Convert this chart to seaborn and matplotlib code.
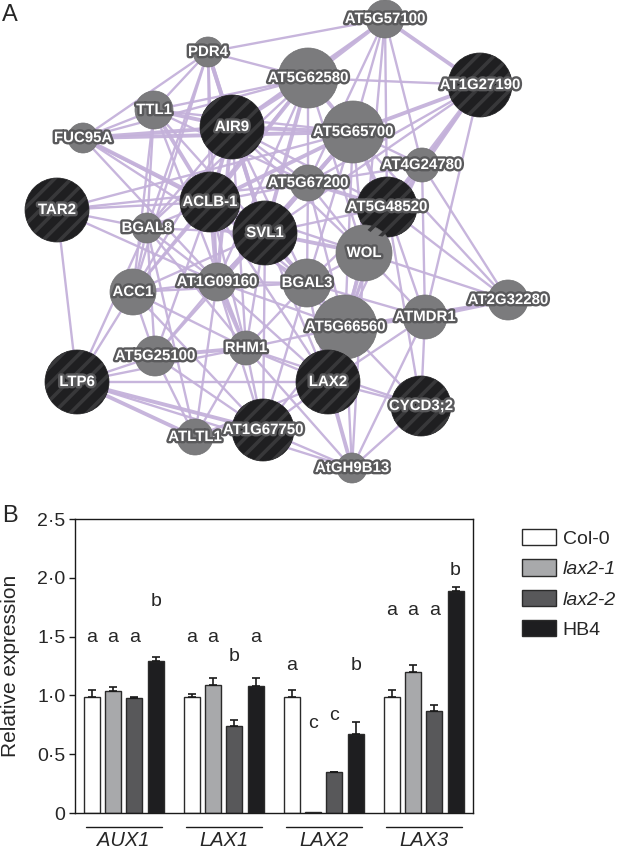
import numpy as np
import pandas as pd
import matplotlib
matplotlib.use("Agg")
import matplotlib.pyplot as plt
import matplotlib.patheffects as pe
from matplotlib.patches import Circle, Patch
from matplotlib.transforms import blended_transform_factory
import seaborn as sns

sns.set_theme(style="white")
plt.rcParams["font.family"] = ["Liberation Sans", "DejaVu Sans"]
plt.rcParams["hatch.linewidth"] = 2.6

# ── Panel A data: gene network ───────────────────────────────────────
nodes = ["AT5G57100", "PDR4", "AT5G62580", "AT1G27190", "TTL1", "AIR9",
         "AT5G65700", "FUC95A", "AT4G24780", "AT5G67200", "TAR2", "ACLB-1",
         "AT5G48520", "BGAL8", "SVL1", "WOL", "ACC1", "AT1G09160", "BGAL3",
         "AT2G32280", "AT5G66560", "ATMDR1", "AT5G25100", "RHM1", "LTP6",
         "LAX2", "CYCD3;2", "ATLTL1", "AT1G67750", "AtGH9B13"]
node_x = [385, 208, 308, 480, 154, 232, 353, 83, 422, 308, 57, 210, 387, 147,
          265, 364, 133, 217, 307, 508, 345, 425, 155, 246, 77, 328, 421, 195,
          263, 352]
node_y = [19, 52, 78, 85, 110, 127, 132, 138, 165, 183, 210, 202, 207, 228,
          233, 253, 292, 282, 283, 300, 327, 317, 356, 348, 382, 382, 406, 437,
          430, 468]
node_r = [19, 15, 30, 32, 19, 32, 31, 15, 17, 18, 32, 30, 30, 15, 32, 28, 23,
          19, 24, 20, 32, 22, 20, 17, 32, 32, 30, 18, 31, 15]
query_genes = ["AT1G27190", "AIR9", "TAR2", "ACLB-1", "AT5G48520", "SVL1",
               "LTP6", "LAX2", "CYCD3;2", "AT1G67750"]

edges = [
    ("TAR2", "LTP6", 1), ("TAR2", "AT5G67200", 1), ("TAR2", "ACLB-1", 1),
    ("TAR2", "AT1G09160", 1), ("TAR2", "BGAL8", 1), ("TAR2", "AT5G65700", 1),
    ("FUC95A", "AIR9", 2), ("FUC95A", "AT5G62580", 1), ("FUC95A", "AT5G65700", 2),
    ("FUC95A", "ACLB-1", 2), ("FUC95A", "TTL1", 1), ("FUC95A", "PDR4", 1),
    ("FUC95A", "SVL1", 1), ("FUC95A", "BGAL3", 1), ("FUC95A", "AT1G09160", 1),
    ("PDR4", "AT5G57100", 1), ("PDR4", "AT5G62580", 1), ("PDR4", "AIR9", 2),
    ("PDR4", "TTL1", 1), ("PDR4", "ACLB-1", 1), ("PDR4", "SVL1", 2),
    ("PDR4", "AT1G09160", 1), ("PDR4", "BGAL8", 1), ("PDR4", "ACC1", 1),
    ("TTL1", "AIR9", 2), ("TTL1", "AT5G62580", 1), ("TTL1", "AT5G65700", 1),
    ("TTL1", "ACLB-1", 2), ("TTL1", "SVL1", 1), ("TTL1", "AT5G67200", 1),
    ("TTL1", "BGAL8", 1), ("TTL1", "ACC1", 1), ("TTL1", "RHM1", 1),
    ("AT5G57100", "AT5G62580", 2), ("AT5G57100", "AT1G27190", 2),
    ("AT5G57100", "AT5G65700", 1), ("AT5G57100", "AIR9", 1),
    ("AT5G57100", "AT5G67200", 1), ("AT5G57100", "WOL", 1),
    ("AT5G57100", "AT4G24780", 1), ("AT5G57100", "AT5G48520", 1),
    ("AT5G62580", "AIR9", 2), ("AT5G62580", "AT5G65700", 2),
    ("AT5G62580", "AT1G27190", 1), ("AT5G62580", "ACLB-1", 2),
    ("AT5G62580", "SVL1", 2), ("AT5G62580", "AT5G67200", 1),
    ("AT5G62580", "BGAL8", 1), ("AT5G62580", "AT1G09160", 1),
    ("AT5G62580", "WOL", 1), ("AT5G62580", "ACC1", 1),
    ("AT1G27190", "AT5G65700", 2), ("AT1G27190", "AT4G24780", 1),
    ("AT1G27190", "AT5G48520", 2), ("AT1G27190", "SVL1", 1),
    ("AT1G27190", "AT5G67200", 1), ("AT1G27190", "ATMDR1", 1),
    ("AT1G27190", "WOL", 1),
    ("AIR9", "AT5G65700", 2), ("AIR9", "ACLB-1", 2), ("AIR9", "SVL1", 2),
    ("AIR9", "AT5G67200", 1), ("AIR9", "BGAL8", 1), ("AIR9", "AT1G09160", 2),
    ("AIR9", "ACC1", 1), ("AIR9", "WOL", 1), ("AIR9", "AT5G48520", 1),
    ("AIR9", "BGAL3", 1), ("AIR9", "RHM1", 1),
    ("AT5G65700", "AT5G67200", 2), ("AT5G65700", "SVL1", 2),
    ("AT5G65700", "ACLB-1", 2), ("AT5G65700", "AT5G48520", 2),
    ("AT5G65700", "WOL", 1), ("AT5G65700", "AT4G24780", 1),
    ("AT5G65700", "BGAL3", 1), ("AT5G65700", "AT5G66560", 1),
    ("AT5G65700", "AT2G32280", 1), ("AT5G65700", "AT1G09160", 1),
    ("AT4G24780", "AT5G48520", 1), ("AT4G24780", "WOL", 1),
    ("AT4G24780", "AT5G67200", 1), ("AT4G24780", "ATMDR1", 1),
    ("AT4G24780", "AT2G32280", 1), ("AT4G24780", "AT5G66560", 1),
    ("AT5G67200", "SVL1", 2), ("AT5G67200", "ACLB-1", 1),
    ("AT5G67200", "AT5G48520", 2), ("AT5G67200", "WOL", 1),
    ("AT5G67200", "BGAL3", 1), ("AT5G67200", "AT1G09160", 1),
    ("AT5G67200", "AT5G66560", 1),
    ("AT5G48520", "WOL", 2), ("AT5G48520", "SVL1", 1), ("AT5G48520", "BGAL3", 1),
    ("AT5G48520", "AT5G66560", 1), ("AT5G48520", "ATMDR1", 1),
    ("AT5G48520", "AT2G32280", 1), ("AT5G48520", "LAX2", 1),
    ("AT5G48520", "CYCD3;2", 1),
    ("ACLB-1", "SVL1", 2), ("ACLB-1", "BGAL8", 1), ("ACLB-1", "AT1G09160", 2),
    ("ACLB-1", "ACC1", 1), ("ACLB-1", "BGAL3", 1), ("ACLB-1", "RHM1", 1),
    ("ACLB-1", "AT5G25100", 1), ("ACLB-1", "LAX2", 1),
    ("ACLB-1", "AT5G66560", 1), ("ACLB-1", "WOL", 1),
    ("SVL1", "BGAL8", 1), ("SVL1", "AT1G09160", 2), ("SVL1", "BGAL3", 2),
    ("SVL1", "WOL", 2), ("SVL1", "AT5G66560", 2), ("SVL1", "RHM1", 1),
    ("SVL1", "ACC1", 1), ("SVL1", "LAX2", 1), ("SVL1", "AT1G67750", 1),
    ("SVL1", "AT5G25100", 1),
    ("BGAL8", "ACC1", 1), ("BGAL8", "AT1G09160", 1), ("BGAL8", "RHM1", 1),
    ("BGAL8", "AT5G25100", 1), ("BGAL8", "LTP6", 1), ("BGAL8", "ATLTL1", 1),
    ("ACC1", "AT1G09160", 1), ("ACC1", "LTP6", 1), ("ACC1", "RHM1", 1),
    ("ACC1", "AT5G25100", 1), ("ACC1", "AT1G67750", 1), ("ACC1", "BGAL3", 1),
    ("AT1G09160", "RHM1", 2), ("AT1G09160", "BGAL3", 1),
    ("AT1G09160", "AT5G25100", 1), ("AT1G09160", "AT5G66560", 1),
    ("AT1G09160", "LAX2", 1), ("AT1G09160", "AT1G67750", 1),
    ("AT1G09160", "ATLTL1", 1),
    ("WOL", "BGAL3", 1), ("WOL", "AT5G66560", 2), ("WOL", "ATMDR1", 1),
    ("WOL", "AT2G32280", 1), ("WOL", "LAX2", 1), ("WOL", "AtGH9B13", 1),
    ("BGAL3", "AT5G66560", 1), ("BGAL3", "RHM1", 1), ("BGAL3", "LAX2", 1),
    ("BGAL3", "AT1G67750", 1), ("BGAL3", "ATMDR1", 1),
    ("AT5G66560", "ATMDR1", 2), ("AT5G66560", "AT2G32280", 1),
    ("AT5G66560", "LAX2", 1), ("AT5G66560", "CYCD3;2", 1),
    ("AT5G66560", "RHM1", 1), ("AT5G66560", "AT1G67750", 1),
    ("AT5G66560", "AtGH9B13", 1),
    ("ATMDR1", "AT2G32280", 2), ("ATMDR1", "CYCD3;2", 1),
    ("ATMDR1", "LAX2", 1), ("ATMDR1", "AtGH9B13", 1),
    ("AT5G25100", "RHM1", 2), ("AT5G25100", "LTP6", 1),
    ("AT5G25100", "ATLTL1", 1), ("AT5G25100", "AT1G67750", 1),
    ("RHM1", "LAX2", 1), ("RHM1", "AT1G67750", 1), ("RHM1", "ATLTL1", 1),
    ("RHM1", "AtGH9B13", 1), ("RHM1", "CYCD3;2", 1),
    ("LTP6", "ATLTL1", 2), ("LTP6", "AT1G67750", 2), ("LTP6", "RHM1", 1),
    ("LTP6", "LAX2", 1), ("LTP6", "AtGH9B13", 1),
    ("LAX2", "AT1G67750", 1), ("LAX2", "AtGH9B13", 2), ("LAX2", "CYCD3;2", 1),
    ("LAX2", "ATLTL1", 1),
    ("AT1G67750", "ATLTL1", 1), ("AT1G67750", "AtGH9B13", 1),
    ("CYCD3;2", "AtGH9B13", 1),
]

# ── Panel B data: relative expression ────────────────────────────────
genes = ["AUX1", "LAX1", "LAX2", "LAX3"]
lines = ["Col-0", "lax2-1", "lax2-2", "HB4"]
col0_mean = [0.99, 0.99, 0.99, 0.985]
col0_se = [0.06, 0.02, 0.06, 0.065]
lax21_mean = [1.04, 1.09, 0.012, 1.20]
lax21_se = [0.035, 0.06, 0.0, 0.06]
lax22_mean = [0.975, 0.74, 0.345, 0.87]
lax22_se = [0.008, 0.05, 0.005, 0.05]
hb4_mean = [1.29, 1.08, 0.67, 1.89]
hb4_se = [0.035, 0.07, 0.10, 0.03]

col0_letters = ["a", "a", "a", "a"]
lax21_letters = ["a", "a", "c", "a"]
lax22_letters = ["a", "b", "c", "a"]
hb4_letters = ["b", "a", "b", "b"]
# heights at which the significance letters sit
col0_letter_y = [1.49, 1.49, 1.25, 1.725]
lax21_letter_y = [1.49, 1.49, 0.76, 1.725]
lax22_letter_y = [1.49, 1.33, 0.83, 1.725]
hb4_letter_y = [1.80, 1.49, 1.25, 2.06]

ytick_vals = [0, 0.5, 1.0, 1.5, 2.0, 2.5]
ytick_labels = ["0", "0·5", "1·0", "1·5", "2·0", "2·5"]

BAR_COLORS = {"Col-0": "#ffffff", "lax2-1": "#a8a9ab",
              "lax2-2": "#58585a", "HB4": "#1e1e20"}

W, H = 625, 852
fig = plt.figure(figsize=(W / 100, H / 100), dpi=100)

# ── Panel A: network ─────────────────────────────────────────────────
A_H = 492
axa = fig.add_axes([0, 1 - A_H / H, 1, A_H / H])
axa.set_xlim(0, W)
axa.set_ylim(A_H, 0)
axa.set_axis_off()

pos = {n: (x, y) for n, x, y in zip(nodes, node_x, node_y)}
for a, b, w in edges:
    (x1, y1), (x2, y2) = pos[a], pos[b]
    axa.plot([x1, x2], [y1, y2], color="#c4b1da",
             lw=1.7 if w == 1 else 2.8, alpha=0.95, zorder=1,
             solid_capstyle="butt")

for n, x, y, r in zip(nodes, node_x, node_y, node_r):
    if n in query_genes:
        axa.add_patch(Circle((x, y), r, facecolor="#1f1f21",
                             edgecolor="#1f1f21", lw=0.5, zorder=2))
        axa.add_patch(Circle((x, y), r, facecolor="none", hatch="//",
                             edgecolor="#38383a", lw=0, zorder=3))
    else:
        axa.add_patch(Circle((x, y), r, facecolor="#7b7b7d",
                             edgecolor="#707072", lw=0.5, zorder=2))

for n, x, y in zip(nodes, node_x, node_y):
    axa.text(x, y, n, ha="center", va="center", color="white",
             fontsize=10.8, fontweight="bold", zorder=5,
             path_effects=[pe.withStroke(linewidth=3.4, foreground="#59595b")])

fig.text(2 / W, 1 - 15 / H, "A", fontsize=17, va="center", ha="left")

# ── Panel B: bar chart ───────────────────────────────────────────────
df = pd.DataFrame({
    "gene": genes * 4,
    "line": sum([[l] * 4 for l in lines], []),
    "mean": col0_mean + lax21_mean + lax22_mean + hb4_mean,
})
se_by_line = [col0_se, lax21_se, lax22_se, hb4_se]
letters_by_line = [col0_letters, lax21_letters, lax22_letters, hb4_letters]
letter_y_by_line = [col0_letter_y, lax21_letter_y, lax22_letter_y, hb4_letter_y]

left, right, top, bottom = 75, 473, 519, 813
axb = fig.add_axes([left / W, 1 - bottom / H, (right - left) / W, (bottom - top) / H])
sns.barplot(data=df, x="gene", y="mean", hue="line", hue_order=lines,
            order=genes, palette=BAR_COLORS, width=0.85, gap=0.25,
            edgecolor="#2a2a2a", linewidth=1, errorbar=None, legend=False,
            ax=axb)
bar_conts = list(axb.containers)

for cont, se, lets, ly in zip(bar_conts, se_by_line, letters_by_line,
                              letter_y_by_line):
    for bar, e, lt, yy in zip(cont, se, lets, ly):
        xc = bar.get_x() + bar.get_width() / 2
        h = bar.get_height()
        if e > 0:
            axb.errorbar([xc], [h], yerr=[[0], [e]], fmt="none",
                         ecolor="#1a1a1a", elinewidth=1.2, capsize=3,
                         capthick=1.2, zorder=3)
        axb.text(xc, yy, lt, ha="center", va="center", fontsize=14)

axb.set_ylim(0, 2.5)
axb.set_xlim(-0.4875, 3.4925)
axb.set_yticks(ytick_vals)
axb.set_yticklabels(ytick_labels)
axb.tick_params(axis="y", left=True, length=4, width=1, pad=3,
                labelsize=14, color="#1a1a1a")
axb.tick_params(axis="x", bottom=False, length=0, pad=13, labelsize=14.5)
for t in axb.get_xticklabels():
    t.set_style("italic")
axb.set_xlabel("")
axb.set_ylabel("Relative expression", fontsize=15, labelpad=12)
for s in axb.spines.values():
    s.set_visible(True)
    s.set_color("#1a1a1a")
    s.set_linewidth(1)

# group underlines
trans = blended_transform_factory(axb.transData, axb.transAxes)
first, last = bar_conts[0], bar_conts[-1]
for b0, b3 in zip(first, last):
    axb.plot([b0.get_x() + 0.02, b3.get_x() + b3.get_width() - 0.02],
             [-0.048, -0.048], color="#1a1a1a", lw=1, transform=trans,
             clip_on=False)

fig.text(2 / W, 1 - 516 / H, "B", fontsize=17, va="center", ha="left")

handles = [Patch(facecolor=BAR_COLORS[l], edgecolor="#2a2a2a", lw=1)
           for l in lines]
leg = fig.legend(handles, lines, loc="upper left",
                 bbox_to_anchor=(522 / W, 1 - 529 / H), frameon=False,
                 fontsize=14, handlelength=1.75, handleheight=0.9,
                 handletextpad=0.35, labelspacing=0.6, borderpad=0,
                 borderaxespad=0)
for t in leg.get_texts()[1:3]:
    t.set_style("italic")

fig.savefig("out.png", dpi=100)
